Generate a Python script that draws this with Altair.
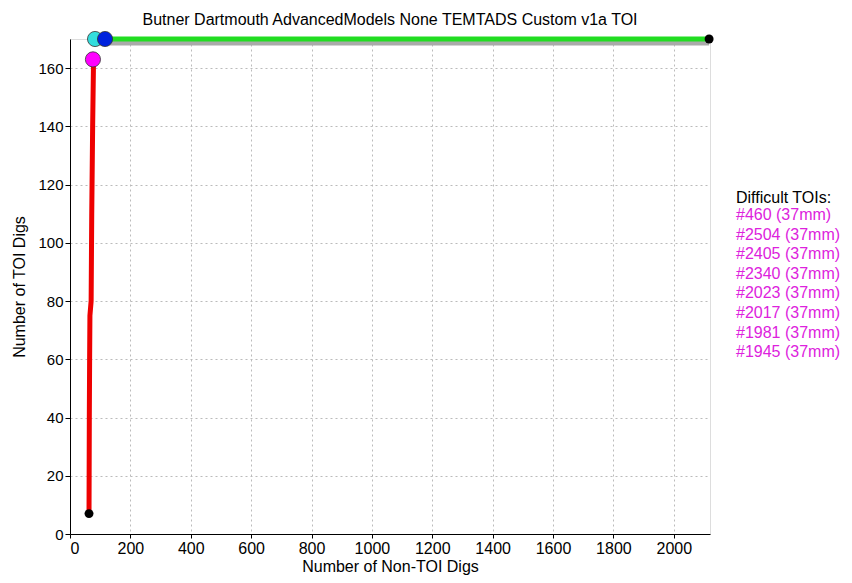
import altair as alt
import pandas as pd

# Red curve (ROC-like)
red_x = [63, 64, 65, 66, 70, 72, 75, 78]
red_y = [7, 40, 60, 75, 80, 110, 140, 163]
# Gray and green horizontal segments
gray_x = [80, 2117]
gray_y = [169, 169]
green_x = [116, 2117]
green_y = [170, 170]
# Marker points
pt_x = [76, 83, 116]
pt_y = [163, 170, 170]
pt_c = ["#ff00ff", "#33dddd", "#0022dd"]
end_x = [63, 2117]
end_y = [7, 170]

legend_title = "Difficult TOIs:"
legend_items = ["#460 (37mm)", "#2504 (37mm)", "#2405 (37mm)", "#2340 (37mm)",
                "#2023 (37mm)", "#2017 (37mm)", "#1981 (37mm)", "#1945 (37mm)"]

FONT = "Liberation Sans"
xs = alt.Scale(domain=[0, 2120], nice=False, zero=False)
ys = alt.Scale(domain=[0, 170], nice=False, zero=False)

xax = alt.Axis(values=list(range(0, 2001, 200)), format="d", title="Number of Non-TOI Digs",
               grid=True, gridDash=[2, 3], gridColor="#bbbbbb", domainColor="black",
               tickColor="black", labelColor="black", labelFontSize=16, titleFontSize=16,
               titleFontWeight="normal", labelFont=FONT, titleFont=FONT, titleColor="black",
               tickSize=4, labelPadding=2, titlePadding=2)
yax = alt.Axis(values=list(range(0, 161, 20)), format="d", title="Number of TOI Digs",
               grid=True, gridDash=[2, 3], gridColor="#bbbbbb", domainColor="black",
               tickColor="black", labelColor="black", labelFontSize=15, titleFontSize=16,
               titleFontWeight="normal", labelFont=FONT, titleFont=FONT, titleColor="black",
               tickSize=5, labelPadding=2, titlePadding=10)

red_df = pd.DataFrame({"x": red_x, "y": red_y, "o": range(len(red_x))})
gray_df = pd.DataFrame({"x": gray_x, "y": gray_y})
green_df = pd.DataFrame({"x": green_x, "y": green_y})
pt_df = pd.DataFrame({"x": pt_x, "y": pt_y, "c": pt_c})
end_df = pd.DataFrame({"x": end_x, "y": end_y})

gray = alt.Chart(gray_df).mark_line(color="#aaaaaa", strokeWidth=7).encode(
    x=alt.X("x:Q", scale=xs, axis=xax), y=alt.Y("y:Q", scale=ys, axis=yax))
green = alt.Chart(green_df).mark_line(color="#22dd22", strokeWidth=5).encode(
    x=alt.X("x:Q", scale=xs), y=alt.Y("y:Q", scale=ys))
red = alt.Chart(red_df).mark_line(color="#ee0000", strokeWidth=5).encode(
    x=alt.X("x:Q", scale=xs), y=alt.Y("y:Q", scale=ys), order="o:Q")
ends = alt.Chart(end_df).mark_point(filled=True, color="black", size=80, opacity=1, shape="circle").encode(
    x=alt.X("x:Q", scale=xs), y=alt.Y("y:Q", scale=ys))
pts = alt.Chart(pt_df).mark_point(filled=True, size=230, opacity=1, shape="circle",
                                  stroke="#333333", strokeWidth=0.8).encode(
    x=alt.X("x:Q", scale=xs), y=alt.Y("y:Q", scale=ys),
    color=alt.Color("c:N", scale=None))

leg_title = alt.Chart(pd.DataFrame({"t": [legend_title]})).mark_text(
    align="left", baseline="middle", fontSize=16, font=FONT, color="black").encode(
    x=alt.value(666), y=alt.value(159), text="t:N")
leg_items = alt.Chart(pd.DataFrame({"t": ["\n".join(legend_items)]})).mark_text(
    align="left", baseline="top", fontSize=16, font=FONT, color="#dd22dd",
    lineBreak="\n", lineHeight=19.6).encode(
    x=alt.value(666), y=alt.value(168), text="t:N")

chart = alt.layer(gray, green, red, ends, pts, leg_title, leg_items).properties(
    width=640, height=495,
    title=alt.TitleParams("Butner Dartmouth AdvancedModels None TEMTADS Custom v1a TOI",
                          font=FONT, fontSize=16, fontWeight="normal", color="black",
                          anchor="middle", offset=0),
    autosize=alt.AutoSizeParams(type="none"),
    padding={"left": 62, "top": 31, "right": 134, "bottom": 41},
).configure_view(stroke="black", strokeWidth=1).configure(background="white")

chart.save("out.html", embed_options={"renderer": "svg", "actions": False})
